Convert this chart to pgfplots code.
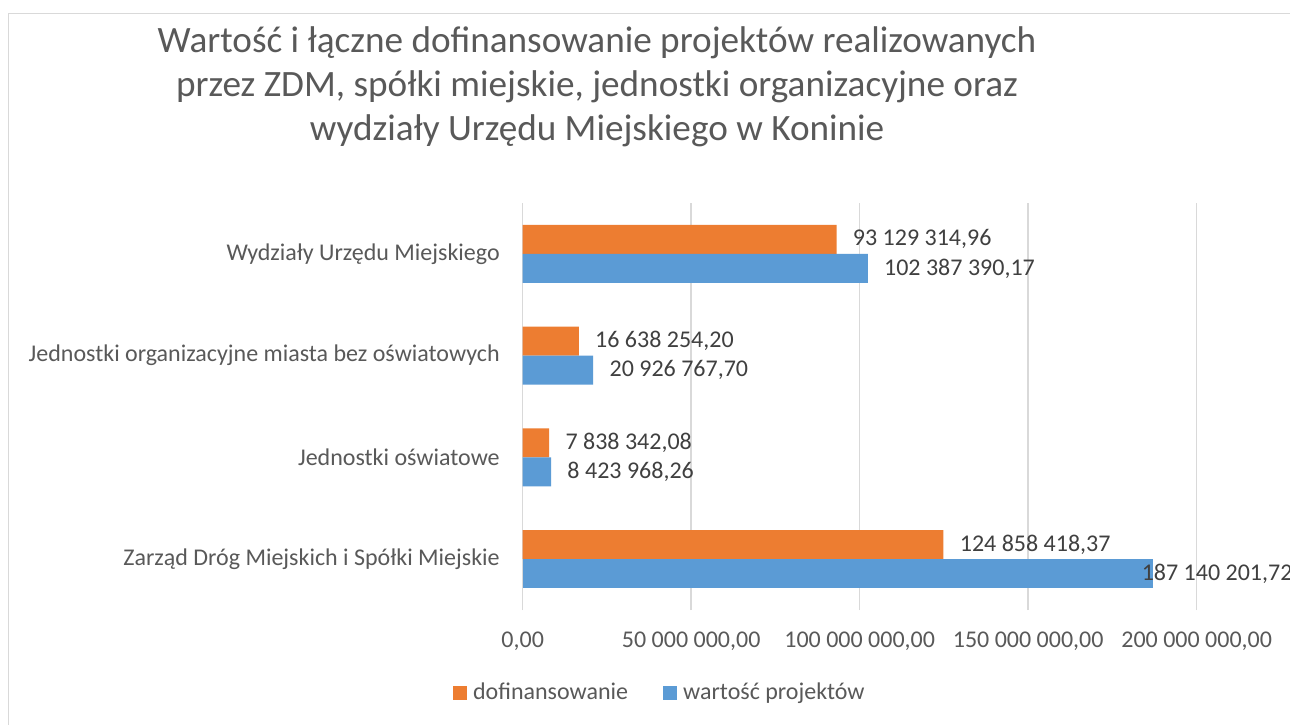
\documentclass[border=0pt]{standalone}
\usepackage{pgfplots}
\pgfplotsset{compat=1.18}
\usepackage{fontspec}
\setmainfont{Carlito}
\definecolor{corange}{HTML}{ED7D31}
\definecolor{cblue}{HTML}{5B9BD5}
\definecolor{cgrid}{HTML}{D9D9D9}
\definecolor{ctext}{HTML}{595959}
\definecolor{clabel}{HTML}{404040}
\begin{document}
\begin{tikzpicture}[x=1pt,y=1pt]
\path[use as bounding box] (0,0) rectangle (645,362);
\clip (0,0) rectangle (645,362);
\fill[white] (0,0) rectangle (645,362);
\draw[cgrid, line width=0.75pt] (4.25,-5) -- (4.25,355.25) -- (650,355.25);
\begin{scope}[every node/.style={anchor=base, font=\fontsize{18.6}{22}\selectfont, text=ctext, inner sep=0pt}]
\node at (298.5,335.5) {Wartość i łączne dofinansowanie projektów realizowanych};
\node at (298.5,313.5) {przez ZDM, spółki miejskie, jednostki organizacyjne oraz};
\node at (298.5,291.5) {wydziały Urzędu Miejskiego w Koninie};
\end{scope}
\begin{axis}[
  at={(261.35pt,57pt)}, anchor=south west,
  width=337pt, height=203.5pt, scale only axis,
  xbar, bar width=14.5pt,
  xmin=0, xmax=2e8, ymin=-0.5, ymax=3.5,
  clip=false,
  scaled x ticks=false,
  axis line style={draw=none}, tick style={draw=none},
  major tick length=0pt,
  xmajorgrids, grid style={cgrid, line width=0.75pt},
  xtick={0,5e7,1e8,1.5e8,2e8},
  xticklabels={{0,00},{50 000 000,00},{100 000 000,00},{150 000 000,00},{200 000 000,00}},
  ytick={0,1,2,3},
  yticklabels={Zarząd Dróg Miejskich i Spółki Miejskie, Jednostki oświatowe, Jednostki organizacyjne miasta bez oświatowych, Wydziały Urzędu Miejskiego},
  xticklabel style={font=\fontsize{12}{14}\selectfont, text=ctext, inner sep=0pt, yshift=-11pt},
  yticklabel style={font=\fontsize{12}{14}\selectfont, text=ctext, inner sep=0pt, anchor=east, xshift=-11.3pt},
  point meta=explicit symbolic,
  nodes near coords,
  nodes near coords style={font=\fontsize{12}{14}\selectfont, text=clabel, inner sep=0pt, anchor=west, xshift=8pt},
  legend style={at={(0.202,-0.204)}, anchor=center, draw=none, fill=none,
    font=\fontsize{12}{14}\selectfont, text=ctext,
    nodes={inner sep=0pt},
    /tikz/every odd column/.append style={column sep=3pt},
    /tikz/every even column/.append style={column sep=17.5pt}},
  legend columns=2,
]
\addplot[fill=corange, draw=none, bar shift=7.25pt,
  legend image code/.code={\fill[corange] (0pt,-3.5pt) rectangle (7pt,3.5pt);}]
  coordinates {
  (124858418.37,0) [{124 858 418,37}]
  (7838342.08,1) [{7 838 342,08}]
  (16638254.20,2) [{16 638 254,20}]
  (93129314.96,3) [{93 129 314,96}]
};
\addlegendentry{dofinansowanie}
\addplot[fill=cblue, draw=none, bar shift=-7.25pt,
  legend image code/.code={\fill[cblue] (0pt,-3.5pt) rectangle (7pt,3.5pt);}]
  coordinates {
  (8423968.26,1) [{8 423 968,26}]
  (20926767.70,2) [{20 926 767,70}]
  (102387390.17,3) [{102 387 390,17}]
};
\addlegendentry{wartość projektów}
\addplot[fill=cblue, draw=none, bar shift=-7.25pt, forget plot,
  nodes near coords style={xshift=-14pt}]
  coordinates {
  (187140201.72,0) [{187 140 201,72}]
};
\end{axis}
\end{tikzpicture}
\end{document}
